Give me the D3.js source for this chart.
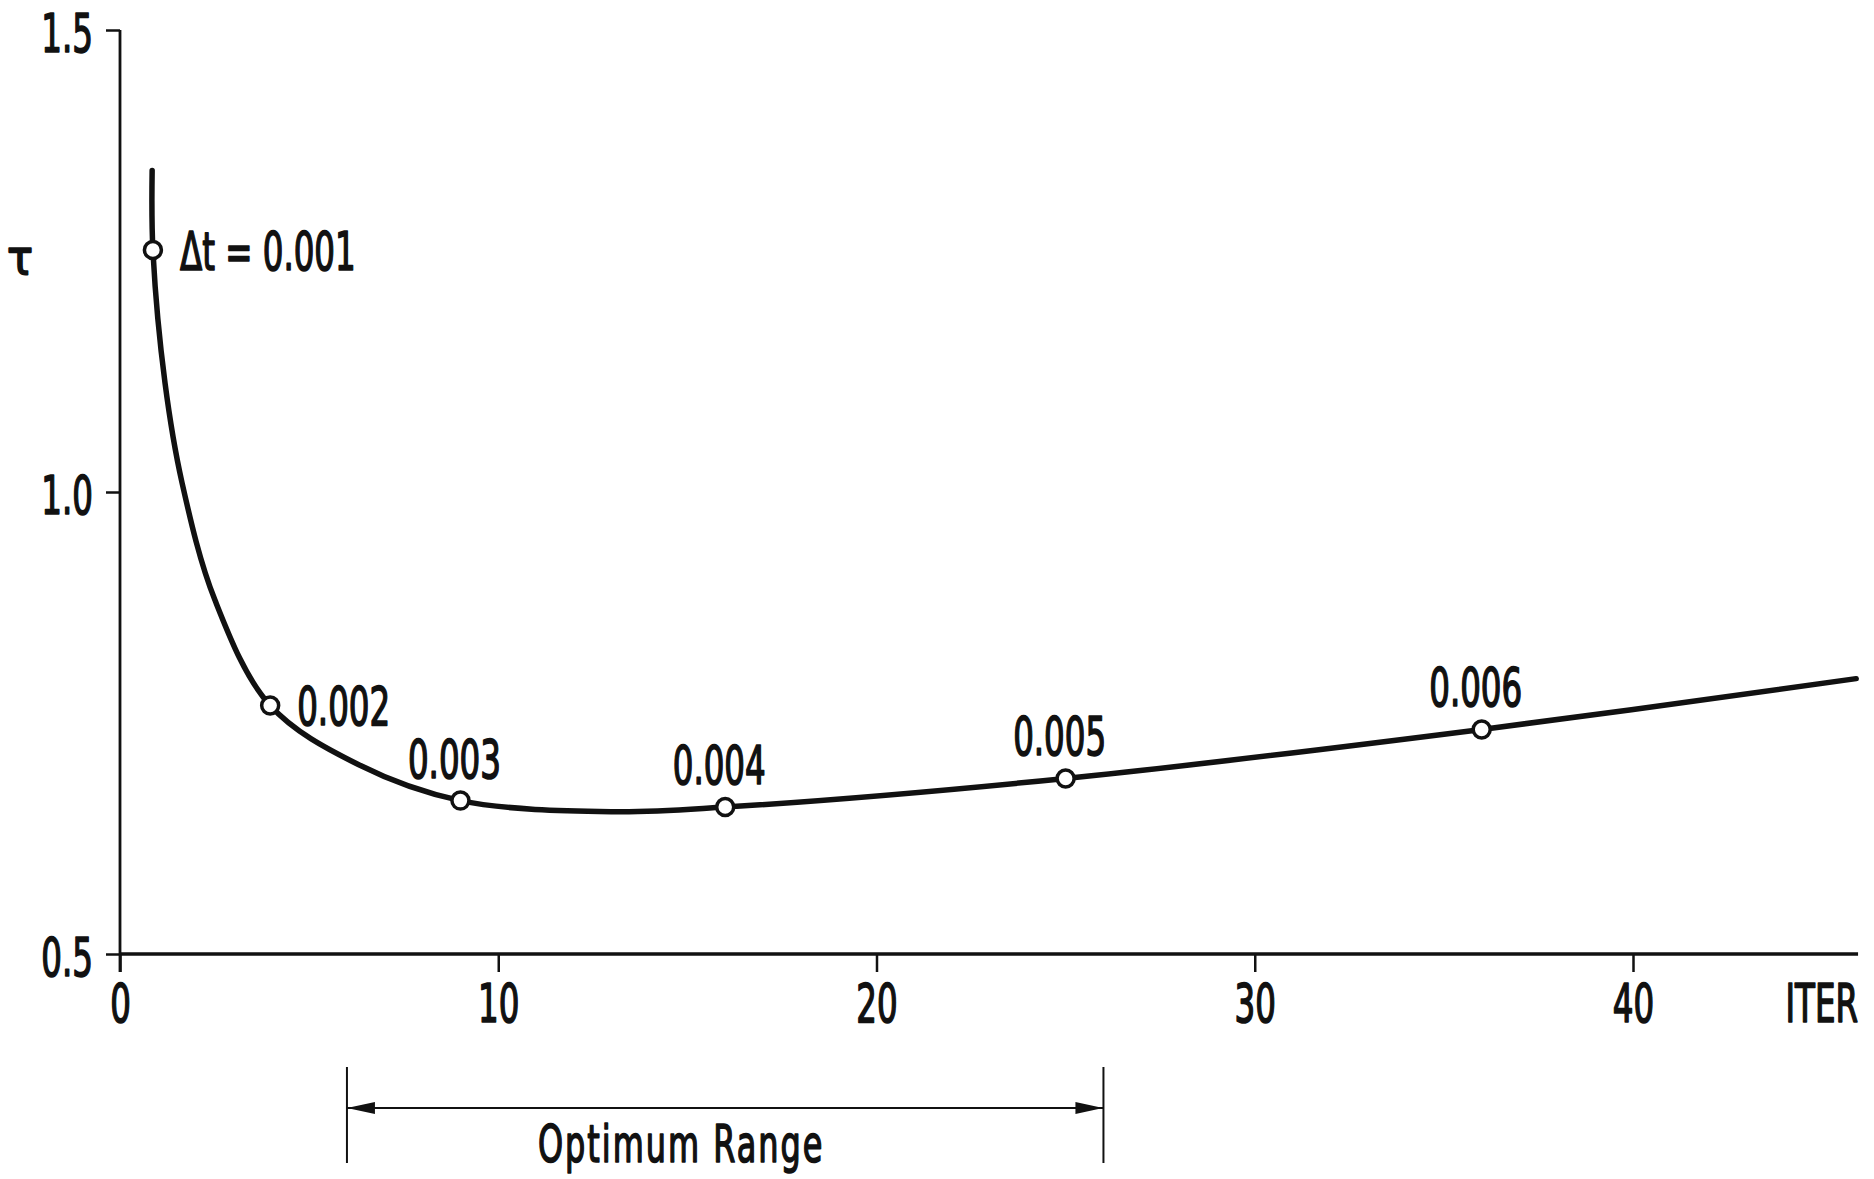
<!DOCTYPE html>
<html>
<head>
<meta charset="utf-8">
<script src="https://cdn.jsdelivr.net/npm/d3@7"></script>
<style>
  body { margin: 0; background: #fff; }
  text { font-family: "Liberation Sans Narrow", "DejaVu Sans Condensed", "Liberation Sans", sans-serif; fill: #111; stroke: #111; stroke-width: 1.6px; stroke-linejoin: round; }
</style>
</head>
<body>
<script>
var w = 1874, h = 1179;

// curve (ITER, tau)
var curveIter = [0.85, 0.87, 1.19, 1.64, 2.51, 3.97, 6.3, 9.0, 13.0, 16.0, 25.0, 36.0, 45.9];
var curveTau  = [1.348, 1.262, 1.118, 1.010, 0.883, 0.769, 0.705, 0.666, 0.654, 0.659, 0.690, 0.743, 0.798];

// circled points and their time steps
var markIter = [0.87, 3.97, 9, 16, 25, 36];
var markTau = [1.262, 0.769, 0.666, 0.659, 0.690, 0.743];
var markLabels = ["\u0394t = 0.001", "0.002", "0.003", "0.004", "0.005", "0.006"];

var xTicks = [0, 10, 20, 30, 40];
var yTicks = [0.5, 1.0, 1.5];
var yTickLabels = ["0.5", "1.0", "1.5"];
var xEnd = 45.95;
var optimumRange = [6, 26];

var svg = d3.select("body").append("svg")
  .attr("width", w)
  .attr("height", h);

var fontSize = 53;

// squeeze the font so it looks like the narrow lettering of the original
var probe = svg.append("text").attr("font-size", fontSize).text("0.002");
var sx = 93 / probe.node().getComputedTextLength();
probe.remove();

function label(x, y, str, anchor, size) {
  return svg.append("text")
    .attr("transform", "translate(" + x + "," + y + ") scale(" + sx + ",1)")
    .attr("text-anchor", anchor)
    .attr("font-size", size || fontSize)
    .text(str);
}

var xScale = d3.scaleLinear()
  .domain([0, 40])
  .range([120, 1633]);

var yScale = d3.scaleLinear()
  .domain([0.5, 1.5])
  .range([954, 30]);

// axes
var xAxis = d3.axisBottom(xScale)
  .tickValues(xTicks)
  .tickSize(18)
  .tickFormat(d3.format("d"));

var yAxis = d3.axisLeft(yScale)
  .tickValues(yTicks)
  .tickSize(14)
  .tickFormat(function(d, i) { return yTickLabels[i]; });

var gx = svg.append("g")
  .attr("transform", "translate(0," + yScale(0.5) + ")")
  .call(xAxis);
gx.select(".domain").remove();
gx.selectAll("line").attr("stroke", "#111").attr("stroke-width", 2.5);
gx.selectAll("text")
  .attr("font-size", fontSize)
  .attr("y", 68)
  .attr("dy", null)
  .attr("transform", "scale(" + sx + ",1)")
  .attr("fill", "#111");

var gy = svg.append("g")
  .attr("transform", "translate(" + xScale(0) + ",0)")
  .call(yAxis);
gy.select(".domain").remove();
gy.selectAll("line").attr("stroke", "#111").attr("stroke-width", 2.5);
gy.selectAll("text")
  .attr("font-size", fontSize)
  .attr("x", -27 / sx)
  .attr("dy", 21)
  .attr("transform", "scale(" + sx + ",1)")
  .attr("fill", "#111");

svg.selectAll(".tick").attr("font-family", null).attr("font-size", null);

// axis lines
svg.append("line")
  .attr("x1", xScale(0)).attr("x2", xScale(xEnd))
  .attr("y1", yScale(0.5)).attr("y2", yScale(0.5))
  .attr("stroke", "#111").attr("stroke-width", 3.5);

svg.append("line")
  .attr("x1", xScale(0)).attr("x2", xScale(0))
  .attr("y1", yScale(1.5)).attr("y2", yScale(0.5) + 18)
  .attr("stroke", "#111").attr("stroke-width", 2.8);

label(xScale(xEnd), yScale(0.5) + 68, "ITER", "end");
svg.append("text")
  .attr("x", 7).attr("y", 274)
  .attr("font-family", "DejaVu Sans")
  .attr("font-size", 48)
  .text("\u03c4");

// curve
var line = d3.line()
  .x(function(d) { return xScale(d[0]); })
  .y(function(d) { return yScale(d[1]); })
  .curve(d3.curveCatmullRom.alpha(0.5));

var curveData = curveIter.map(function(d, i) { return [d, curveTau[i]]; });

svg.append("path")
  .datum(curveData)
  .attr("d", line)
  .attr("fill", "none")
  .attr("stroke", "#111")
  .attr("stroke-width", 5.5)
  .attr("stroke-linecap", "round");

var markData = markIter.map(function(d, i) { return [d, markTau[i], markLabels[i]]; });

svg.selectAll("circle.mark")
  .data(markData)
  .enter()
  .append("circle")
  .attr("class", "mark")
  .attr("cx", function(d) { return xScale(d[0]); })
  .attr("cy", function(d) { return yScale(d[1]); })
  .attr("r", 8.5)
  .attr("fill", "#fff")
  .attr("stroke", "#111")
  .attr("stroke-width", 3.5);

// first two labels sit to the right of their point, the rest above
markData.forEach(function(d, i) {
  var cx = xScale(d[0]), cy = yScale(d[1]);
  if (i < 2) {
    label(cx + 27, cy + 20, d[2], "start");
  } else {
    label(cx - 6, cy - 23, d[2], "middle");
  }
});

// optimum range
svg.append("defs").append("marker")
  .attr("id", "arrow")
  .attr("markerUnits", "userSpaceOnUse")
  .attr("viewBox", "0 -7 28 14")
  .attr("refX", 28).attr("refY", 0)
  .attr("markerWidth", 28).attr("markerHeight", 14)
  .attr("orient", "auto-start-reverse")
  .append("path")
  .attr("d", "M0,-6L28,0L0,6Z")
  .attr("fill", "#111");

svg.selectAll("line.rangeEnd")
  .data(optimumRange)
  .enter()
  .append("line")
  .attr("class", "rangeEnd")
  .attr("x1", function(d) { return xScale(d); })
  .attr("x2", function(d) { return xScale(d); })
  .attr("y1", 1067)
  .attr("y2", 1163)
  .attr("stroke", "#111")
  .attr("stroke-width", 2);

svg.append("line")
  .attr("x1", xScale(optimumRange[0])).attr("x2", xScale(optimumRange[1]))
  .attr("y1", 1108).attr("y2", 1108)
  .attr("stroke", "#111").attr("stroke-width", 2)
  .attr("marker-start", "url(#arrow)")
  .attr("marker-end", "url(#arrow)");

label((xScale(optimumRange[0]) + xScale(optimumRange[1])) / 2 - 44, 1162, "Optimum  Range", "middle", 52)
  .attr("letter-spacing", 3);
</script>
</body>
</html>
